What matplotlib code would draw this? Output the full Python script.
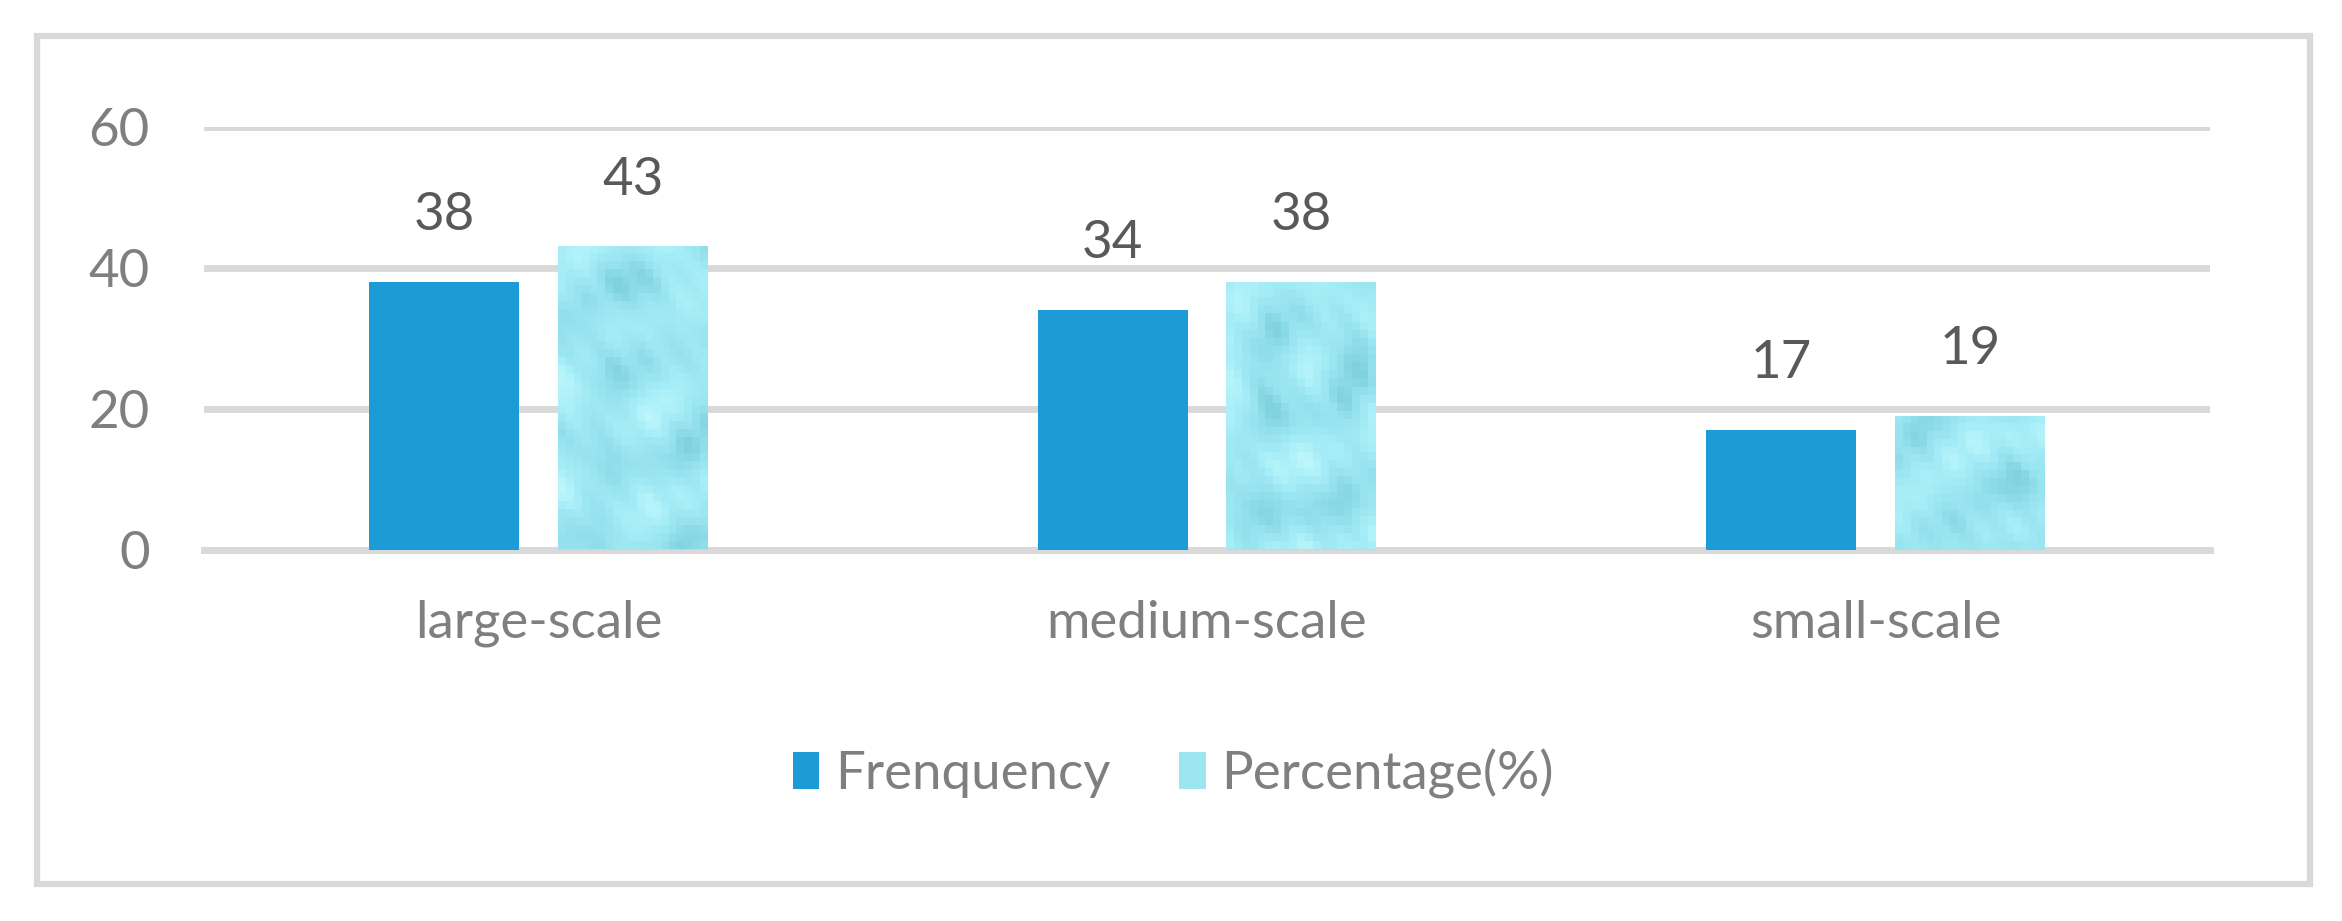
import numpy as np
import matplotlib.pyplot as plt
from matplotlib.colors import LinearSegmentedColormap
from matplotlib.patches import Rectangle, Patch

plt.rcParams['font.family'] = ['Lato', 'DejaVu Sans']

categories = ['large-scale', 'medium-scale', 'small-scale']
frequency = [38, 34, 17]
percentage = [43, 38, 19]
series_names = ['Frenquency', 'Percentage(%)']
y_ticks = [0, 20, 40, 60]

freq_color = '#1c9bd7'
grid_color = '#d9d9d9'
water = LinearSegmentedColormap.from_list(
    'water', ['#5fb3c2', '#7ccfdc', '#96e2ee', '#a6edf7', '#bff8fc'])

fig = plt.figure(figsize=(23.42, 9.21), dpi=100)
ax = fig.add_axes([204 / 2342, 1 - 549.5 / 921, (2210 - 204) / 2342, (549.5 - 126.5) / 921])

# outer frame like the office chart area
fig.patches.append(Rectangle((37 / 2342, 1 - 884 / 921), (2310 - 37) / 2342, (884 - 36) / 921,
                             transform=fig.transFigure, fill=False, edgecolor=grid_color,
                             linewidth=4.5, zorder=0))

x = np.arange(len(categories))
w = 0.224
off = 0.141

b1 = ax.bar(x - off, frequency, w, color=freq_color, zorder=3)
b2 = ax.bar(x + off, percentage, w, color='#9de6f1', zorder=3)

# pixelated water-drop texture inside the percentage bars
for k, rect in enumerate(b2):
    x0, y0 = rect.get_x(), rect.get_y()
    bw, bh = rect.get_width(), rect.get_height()
    nx = 19
    ny = int(round(bh * 7.05 / 8))
    jj, ii = np.meshgrid(np.arange(nx), np.arange(ny))
    r = np.hypot(jj - 7 - 3 * k, ii - 9 - 2 * k)
    t = (0.62 + 0.18 * np.sin(0.42 * jj + 0.28 * ii + 1.3 * k) * np.cos(0.22 * ii - 0.15 * jj)
         + 0.14 * np.cos(0.55 * r)
         + 0.08 * np.sin(1.3 * jj - 0.9 * ii + 2 * k) * np.sin(0.35 * ii))
    t = np.clip(t, 0, 1)
    im = ax.imshow(t, cmap=water, vmin=0, vmax=1, extent=(x0, x0 + bw, y0, y0 + bh),
                   interpolation='nearest', aspect='auto', origin='upper', zorder=4)
    im.set_clip_path(rect)

for rect, v in zip(list(b1) + list(b2), frequency + percentage):
    ax.annotate(str(v), (rect.get_x() + rect.get_width() / 2, v), xytext=(0, 37),
                textcoords='offset points', ha='center', va='baseline',
                fontsize=38, color='#595959')

ax.set_xlim(-0.5, 2.5)
ax.set_ylim(0, 60)
ax.set_yticks(y_ticks)
ax.set_xticks(x)
ax.set_xticklabels(categories)
ax.tick_params(axis='both', length=0, labelsize=38, labelcolor='#7f7f7f')
ax.tick_params(axis='y', pad=39)
ax.tick_params(axis='x', pad=36)
ax.grid(axis='y', color=grid_color, linewidth=5, zorder=0)
ax.set_axisbelow(True)
for s in ax.spines.values():
    s.set_visible(False)
ax.spines['bottom'].set_visible(True)
ax.spines['bottom'].set_color(grid_color)
ax.spines['bottom'].set_linewidth(5)
ax.spines['bottom'].set_zorder(2)

handles = [Patch(facecolor=freq_color), Patch(facecolor='#9de6f1')]
fig.legend(handles, series_names, loc='center', bbox_to_anchor=(0.501, 0.160), ncol=2,
           frameon=False, fontsize=38, labelcolor='#7f7f7f', handlelength=0.5,
           handleheight=0.7, handletextpad=0.3, columnspacing=1.3)

fig.savefig('out.png', dpi=100)
